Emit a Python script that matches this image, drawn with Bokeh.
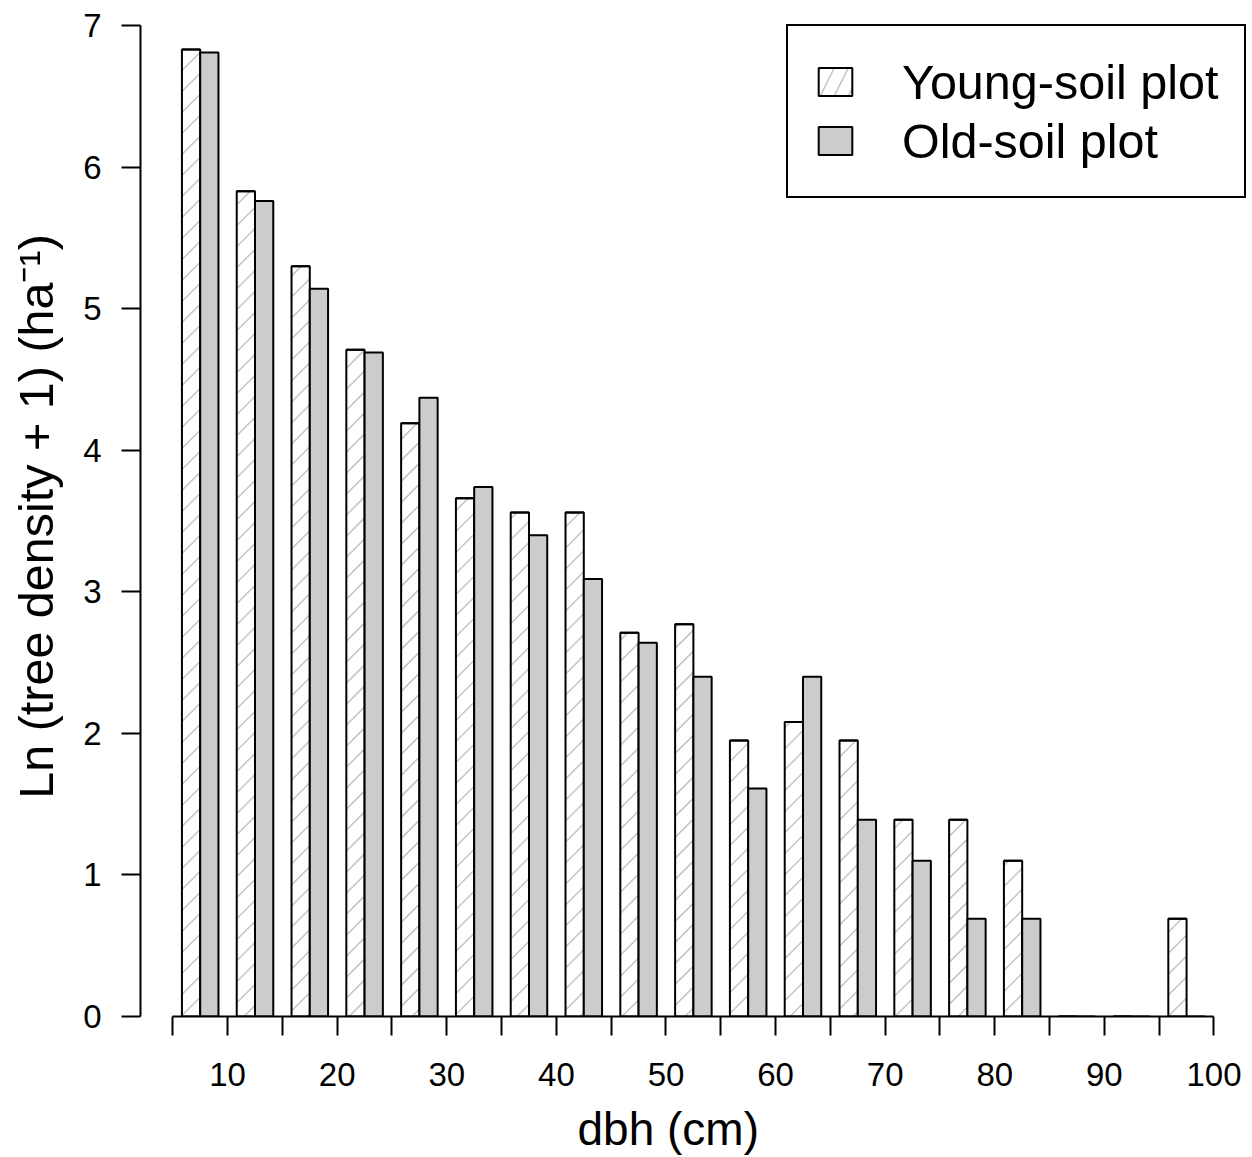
import math
from bokeh.plotting import figure
from bokeh.models import FixedTicker, Legend, LegendItem, Title, Range1d
from bokeh.embed import file_html
from bokeh.resources import INLINE

# ---- data ----
dbh_lower = [5, 10, 15, 20, 25, 30, 35, 40, 45, 50, 55, 60, 65, 70, 75, 80, 85, 90, 95]
young_soil = [6.83, 5.83, 5.30, 4.71, 4.19, 3.66, 3.56, 3.56, 2.71, 2.77,
              1.95, 2.08, 1.95, 1.39, 1.39, 1.10, 0.0, 0.0, 0.69]
old_soil = [6.81, 5.76, 5.14, 4.69, 4.37, 3.74, 3.40, 3.09, 2.64, 2.40,
            1.61, 2.40, 1.39, 1.10, 0.69, 0.69, 0.0, 0.0, 0.0]
x_ticks = [5, 10, 15, 20, 25, 30, 35, 40, 45, 50, 55, 60, 65, 70, 75, 80, 85, 90, 95, 100]
x_tick_labels = ["", "10", "", "20", "", "30", "", "40", "", "50", "", "60", "", "70",
                 "", "80", "", "90", "", "100"]
y_ticks = [0, 1, 2, 3, 4, 5, 6, 7]
y_tick_labels = ["0", "1", "2", "3", "4", "5", "6", "7"]
series_names = ["Young-soil plot", "Old-soil plot"]
x_title = "dbh (cm)"
y_title = "Ln (tree density + 1) (ha\u207b\u00b9)"

# ---- layout ----
W, H = 1250, 1157
BL, BR, BT, BB = 140, 2, 16, 141
X0, X1, Y0, Y1 = 2.053, 103.15, 0.0, 7.0636
class_width = 5.0
bar_w = class_width / 3.0
centers = [lo + class_width / 2 for lo in dbh_lower]
young_x = [c - bar_w / 2 for c in centers]
old_x = [c + bar_w / 2 for c in centers]

FONT = "Liberation Sans"
HATCH_COLOR = "#c4c4c4"

# 45-degree shading lines inside the young-soil bars (R density/angle=45 style)
kx = (W - BL - BR) / (X1 - X0)      # px per cm
ky = (H - BT - BB) / (Y1 - Y0)      # px per unit
slope = kx / ky                     # data-units of y per cm for a 45 deg line
dy = 21.0 / ky                      # vertical spacing of the shading lines
hx0, hy0, hx1, hy1 = [], [], [], []
for xc, t in zip(young_x, young_soil):
    if t <= 0:
        continue
    xl, xr = xc - bar_w / 2, xc + bar_w / 2
    j0 = math.ceil((-slope * xr) / dy)
    j1 = math.floor((t - slope * xl) / dy)
    for j in range(j0, j1 + 1):
        b = j * dy
        xa = max(xl, -b / slope)
        xb = min(xr, (t - b) / slope)
        if xb - xa > 1e-6:
            hx0.append(xa); hy0.append(slope * xa + b)
            hx1.append(xb); hy1.append(slope * xb + b)

p = figure(width=W, height=H,
           x_range=Range1d(X0, X1), y_range=Range1d(Y0, Y1),
           output_backend="svg", toolbar_location=None,
           min_border_left=BL, min_border_right=BR,
           min_border_top=BT, min_border_bottom=BB)
p.grid.visible = False
p.outline_line_color = None
p.background_fill_color = "white"
p.border_fill_color = "white"

p.segment(x0=hx0, y0=hy0, x1=hx1, y1=hy1, line_color=HATCH_COLOR, line_width=1.5)
ry = p.vbar(x=young_x, width=bar_w, top=young_soil, bottom=0,
            fill_color=None, line_color="black", line_width=2)
ro = p.vbar(x=old_x, width=bar_w, top=old_soil, bottom=0,
            fill_color="#cccccc", line_color="black", line_width=2)
# legend key for the shaded series: zero-height caps on the young bars' tops
# (they coincide with the bar outlines), carrying the hatched key style
ry_key = p.vbar(x=young_x, width=bar_w, top=young_soil, bottom=young_soil,
                fill_color="white", line_color="black", line_width=2,
                hatch_pattern="/", hatch_color=HATCH_COLOR, hatch_scale=28, hatch_weight=1.5)

# axes
for ax in (p.xaxis[0], p.yaxis[0]):
    ax.axis_line_width = 2
    ax.axis_line_color = "black"
    ax.major_tick_line_width = 2
    ax.major_tick_line_color = "black"
    ax.major_tick_out = 19
    ax.major_tick_in = 0
    ax.minor_tick_line_color = None
    ax.major_label_text_font = FONT
    ax.major_label_text_font_size = "33px"
    ax.major_label_text_color = "black"

p.xaxis.major_label_standoff = 27
p.yaxis.major_label_standoff = 20

p.xaxis.ticker = FixedTicker(ticks=x_ticks)
p.xaxis.major_label_overrides = {t: l for t, l in zip(x_ticks, x_tick_labels)}
p.xaxis.bounds = (x_ticks[0], x_ticks[-1])

p.yaxis.ticker = FixedTicker(ticks=y_ticks)
p.yaxis.major_label_overrides = {t: l for t, l in zip(y_ticks, y_tick_labels)}
p.yaxis.bounds = (y_ticks[0], y_ticks[-1])
p.yaxis.axis_label = y_title
p.yaxis.axis_label_text_font = FONT
p.yaxis.axis_label_text_font_size = "48.5px"
p.yaxis.axis_label_text_font_style = "normal"
p.yaxis.axis_label_text_color = "black"
p.yaxis.axis_label_standoff = 17

# spacer between the tick labels and the x title
p.add_layout(Title(text=" ", text_font_size="1px", standoff=9), "below")
xt = Title(text=x_title, align="left", offset=437, standoff=0,
           text_font=FONT, text_font_size="46px", text_font_style="normal",
           text_color="black")
p.add_layout(xt, "below")

legend = Legend(items=[LegendItem(label=series_names[0], renderers=[ry_key]),
                       LegendItem(label=series_names[1], renderers=[ro])],
                location=(646, 818), glyph_width=42, glyph_height=35,
                label_height=59, label_standoff=46, padding=26, spacing=0,
                border_line_color="black", border_line_width=2, border_line_alpha=1.0,
                label_text_font=FONT, label_text_font_size="48.5px",
                label_text_color="black",
                background_fill_color="white", background_fill_alpha=1.0)
p.add_layout(legend, "center")

open("out.html", "w").write(file_html(p, INLINE))
